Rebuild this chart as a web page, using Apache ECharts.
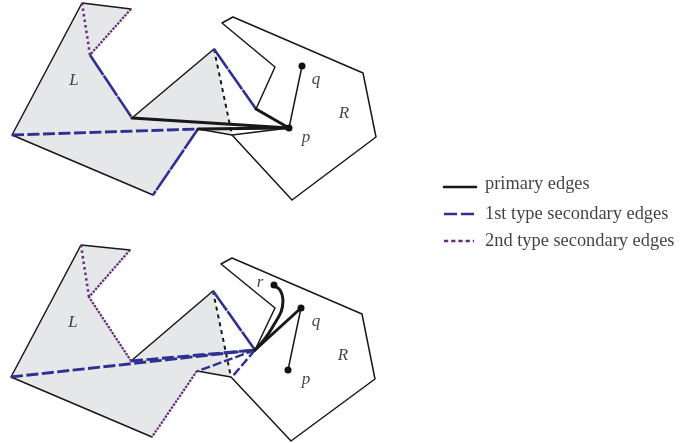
<!DOCTYPE html>
<html><head><meta charset="utf-8">
<style>html,body{margin:0;padding:0;background:#fff}#c{width:692px;height:443px}</style>
<script src="https://cdn.jsdelivr.net/npm/echarts@6/dist/echarts.min.js"></script>
</head><body><div id="c"></div>
<script>
// vertices (x, y in image units)
const polyTop = [[82,3],[131,9],[90,55],[132,118],[214,49],[232,135],[198,129],[153,195],[12,135]];
const polyBot = [[81,245],[130,250],[89,297],[131,361],[213,291],[231,377],[197,371],[152,437],[11,377]];

const thinPaths = [
  [[131,9],[82,3],[12,135],[153,195]],
  [[132,118],[214,49]],
  [[256,109],[275,67],[222,23],[233,17],[363,73],[376,137],[292,200],[232,135],[198,129]],
  [[232,135],[289,128]],
  [[289,128],[302,66]],
  [[130,250],[81,245],[11,377],[152,437]],
  [[131,361],[213,291]],
  [[255,350],[275,308],[221,264],[232,258],[362,314],[375,379],[291,441],[231,377],[197,371]],
  [[301,308],[288,370]]
];
const thickPaths = [
  [[132,118],[289,128]],
  [[198,129],[289,128]],
  [[256,109],[289,128]],
  [[255,350],[301,308]]
];
const thickCurve = [[255,350],[272,328],[283,300],[280,290],[274,286]];
const blueLongThick = [
  [[12,135],[198,129]],
  [[11,377],[255,350]],
  [[131,361],[255,350]]
];
const blueSolid = [
  [[90,55],[132,118]],
  [[198,129],[153,195]],
  [[214,49],[256,109]],
  [[213,291],[255,350]]
];
const blueDash = [
  [[255,350],[198,371]],
  [[255,350],[232,377]]
];
const purpleCoarse = [
  [[82,3],[90,55]],
  [[81,245],[89,297]]
];
const purpleFine = [
  [[131,9],[90,55]],
  [[130,250],[89,297],[131,361]],
  [[197,371],[152,437]]
];
const blackDash = [
  [[214,49],[232,135]],
  [[213,291],[231,377]]
];
const dots = [[289,128],[302,66],[301,308],[288,370],[274,285]];
const italicLabels = [
  [74,81,'L'],[316,80,'q'],[344,114,'R'],[306,138,'p'],
  [73,323,'L'],[260,283,'r'],[316,322,'q'],[343,356,'R'],[306,380,'p']
];
const legendNames = ['primary edges','1st type secondary edges','2nd type secondary edges'];
const legendSwatches = [[[444,187],[476,187]],[[444,214],[474,214]],[[444,241],[474,241]]];
const legendTextPos = [[485,184],[485,214],[485,241]];

const INK='#1a1718', BLUE='#2e3192', PURPLE='#662d7f', GRAY='#e6e7e8';
const lineSeries=(data,color,width,type,extra)=>Object.assign({
  type:'line',data,showSymbol:false,symbol:'none',clip:false,silent:true,z:3,
  lineStyle:{color,width,type:type||'solid',join:'round',cap:type?'butt':'round'}
},extra||{});
const group=(paths,color,width,type,extra)=>paths.map(p=>lineSeries(p,color,width,type,extra));

const series=[
 {type:'custom',coordinateSystem:'cartesian2d',silent:true,z:1,clip:false,
  data:[{value:[0]},{value:[1]}],
  encode:{x:0,y:0},
  renderItem:(params,api)=>({type:'polygon',
     shape:{points:[polyTop,polyBot][api.value(0)].map(p=>api.coord(p))},
     style:{fill:GRAY,stroke:null}})},
 ...group(thinPaths,INK,1.5),
 ...group(blackDash,INK,2,[4,4]),
 ...group(blueSolid,BLUE,2.6,[24,1]),
 ...group(blueLongThick,BLUE,2.9,[12,3.5]),
 ...group(blueDash,BLUE,2.4,[9,3]),
 ...group(purpleCoarse,PURPLE,2.6,[2.4,3.2]),
 ...group(purpleFine,PURPLE,2.2,[2.4,1.2]),
 ...group(thickPaths,INK,3),
 lineSeries(thickCurve,INK,3,null,{smooth:0.45}),
 lineSeries(legendSwatches[0],INK,2.6),
 lineSeries(legendSwatches[1],BLUE,2.6,[13,4]),
 lineSeries(legendSwatches[2],PURPLE,2.6,[4.2,3]),
 {type:'scatter',data:dots,symbol:'circle',symbolSize:7,silent:true,z:5,clip:false,itemStyle:{color:'#111',opacity:1}},
 {type:'scatter',data:italicLabels.map(d=>({value:[d[0],d[1]],name:d[2]})),symbolSize:0,silent:true,z:6,clip:false,
  label:{show:true,position:'inside',formatter:'{b}',fontFamily:'Liberation Serif',fontStyle:'italic',fontSize:17,color:'#111'}},
 {type:'scatter',data:legendNames.map((n,i)=>({value:legendTextPos[i],name:n})),symbolSize:0,silent:true,z:6,clip:false,
  label:{show:true,position:'right',distance:0,formatter:'{b}',fontFamily:'Liberation Serif',fontSize:18.4,color:'#111'}}
];
const chart=echarts.init(document.getElementById('c'),null,{renderer:'canvas'});
chart.setOption({
  animation:false,backgroundColor:'#fff',
  grid:{left:0,right:0,top:0,bottom:0,containLabel:false},
  xAxis:{type:'value',min:0,max:692,show:false},
  yAxis:{type:'value',min:0,max:443,inverse:true,show:false},
  series
});
</script></body></html>
